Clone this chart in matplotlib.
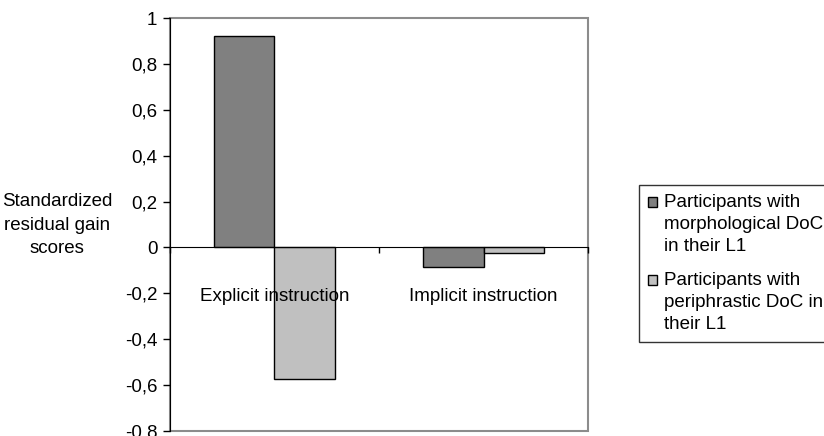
import numpy as np
import matplotlib.pyplot as plt
from matplotlib.patches import Rectangle, Patch
from matplotlib.legend_handler import HandlerPatch
from matplotlib.transforms import blended_transform_factory

plt.rcParams['font.family'] = ['Liberation Sans', 'DejaVu Sans']
plt.rcParams['font.size'] = 13.5

# Data
categories = ['Explicit instruction', 'Implicit instruction']
morphological = [0.924, -0.086]
periphrastic = [-0.574, -0.023]
series_labels = ['Participants with\nmorphological DoC\nin their L1',
                 'Participants with\nperiphrastic DoC in\ntheir L1']
yticks = [1, 0.8, 0.6, 0.4, 0.2, 0, -0.2, -0.4, -0.6, -0.8]
ytick_labels = ['1', '0,8', '0,6', '0,4', '0,2', '0', '-0,2', '-0,4', '-0,6', '-0,8']

dark = '#808080'
light = '#C0C0C0'
width = 0.29


class TopSquare(HandlerPatch):
    # legend square sits next to the first line of a multi-line label
    def create_artists(self, legend, orig_handle, xdescent, ydescent,
                       width, height, fontsize, trans):
        shift = 1.18 * fontsize
        p = Rectangle((-xdescent, -ydescent + shift), width, height,
                      facecolor=orig_handle.get_facecolor(),
                      edgecolor='black', linewidth=1, transform=trans)
        return [p]


fig = plt.figure(figsize=(8.24, 4.36), dpi=100)
ax = fig.add_axes([0.2063, 0.0122, 0.5073, 0.9458])

centers = np.arange(len(categories)) + 0.5
ax.bar(centers - width / 2, morphological, width, color=dark, edgecolor='black', linewidth=1, zorder=2)
ax.bar(centers + width / 2, periphrastic, width, color=light, edgecolor='black', linewidth=1, zorder=2)

ax.set_xlim(0, len(categories))
ax.set_ylim(-0.8, 1)
ax.set_yticks(yticks)
ax.set_yticklabels(ytick_labels)
ax.tick_params(axis='y', direction='out', length=5, width=1, pad=4)

# zero line acts as category axis
ax.spines['bottom'].set_position(('data', 0))
ax.spines['bottom'].set_color('black')
ax.spines['bottom'].set_zorder(3)
ax.set_xticks(np.arange(len(categories) + 1))
ax.tick_params(axis='x', direction='out', length=4, width=1, labelbottom=False)
ax.spines['top'].set_visible(False)
ax.spines['right'].set_visible(False)
ax.spines['left'].set_color('black')
ax.spines['left'].set_zorder(4)

# gray plot-area frame
ax.add_patch(Rectangle((0, 0), 1, 1, transform=ax.transAxes, fill=False,
                       edgecolor='#8c8c8c', linewidth=1.5, clip_on=False, zorder=1))

trans = blended_transform_factory(ax.transData, ax.transData)
for c, name in zip(centers, categories):
    ax.annotate(name, xy=(c, 0), xycoords=trans, xytext=(0, -35.5),
                textcoords='offset points', ha='center', va='center', zorder=5)

fig.text(57 / 824, 1 - 225 / 436, 'Standardized\nresidual gain\nscores',
         ha='center', va='center', linespacing=1.5)

handles = [Patch(facecolor=dark, edgecolor='black'), Patch(facecolor=light, edgecolor='black')]
leg = fig.legend(handles, series_labels, loc='upper left',
                 bbox_to_anchor=(639 / 824, 1 - 185 / 436), frameon=True,
                 fancybox=False, handlelength=0.45, handleheight=0.45,
                 handletextpad=0.4, borderpad=0.5, labelspacing=0.93,
                 borderaxespad=0, handler_map={Patch: TopSquare()})
leg.get_frame().set_edgecolor('black')
leg.get_frame().set_linewidth(1)
for t in leg.get_texts():
    t.set_linespacing(1.37)

fig.savefig('out.png', dpi=100)
